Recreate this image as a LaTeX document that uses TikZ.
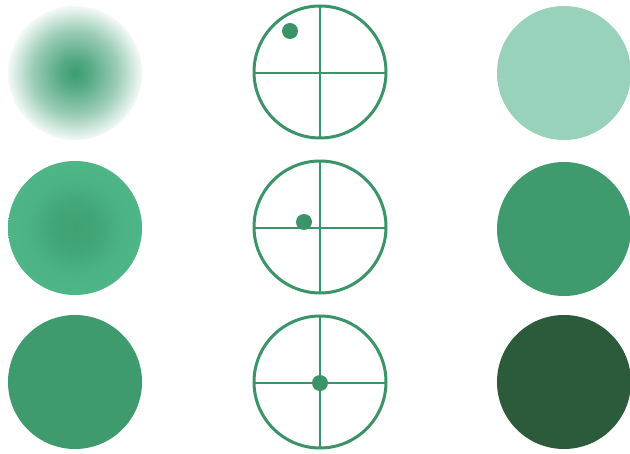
\documentclass[tikz,border=0pt]{standalone}
\usetikzlibrary{calc}
\definecolor{gStroke}{HTML}{3A9468}
\definecolor{gLight}{HTML}{98D2BA}
\definecolor{gMid}{HTML}{3F9A6D}
\definecolor{gDark}{HTML}{2B5B3B}
\definecolor{gBright}{HTML}{4DB586}
\definecolor{gBrightC}{HTML}{3EA273}
\definecolor{gCore}{HTML}{3A9C70}
\pgfdeclareradialshading{fadeout}{\pgfpoint{0bp}{0bp}}{%
  color(0bp)=(gCore);
  color(6bp)=(gCore!85!white);
  color(16bp)=(gCore!50!white);
  color(25bp)=(gCore!6!white);
  color(50bp)=(white)}
\pgfdeclareradialshading{softcore}{\pgfpoint{0bp}{0bp}}{%
  color(0bp)=(gBrightC);
  color(8bp)=(gBrightC!80!gBright);
  color(17bp)=(gBright!85!gBrightC);
  color(25bp)=(gBright);
  color(50bp)=(gBright)}
\tikzset{
  ring/.style={draw=gStroke, line width=3pt},
  crossline/.style={draw=gStroke, line width=2pt},
  marker/.style={fill=gStroke},
}
\begin{document}
\begin{tikzpicture}[x=1pt,y=-1pt]
\useasboundingbox (0,0) rectangle (630,454);
\fill[white] (0,0) rectangle (630,454);
% left column
\shade[shading=fadeout] (75,73) circle (67);
\shade[shading=softcore] (75,228) circle (67);
\fill[gMid] (75,382) circle (67);
% middle column
\foreach \cy/\dx/\dy in {72/290/31, 227/304/222, 382/320/383}{
  \draw[crossline] (320,\cy-66) -- (320,\cy+66);
  \draw[crossline] (254,\cy+1) -- (386,\cy+1);
  \draw[ring] (320,\cy) circle (66);
  \fill[marker] (\dx,\dy) circle (8);
}
% right column
\fill[gLight] (564,73) circle (67);
\fill[gMid] (564,229) circle (67);
\fill[gDark] (564,382) circle (67);
\end{tikzpicture}
\end{document}
